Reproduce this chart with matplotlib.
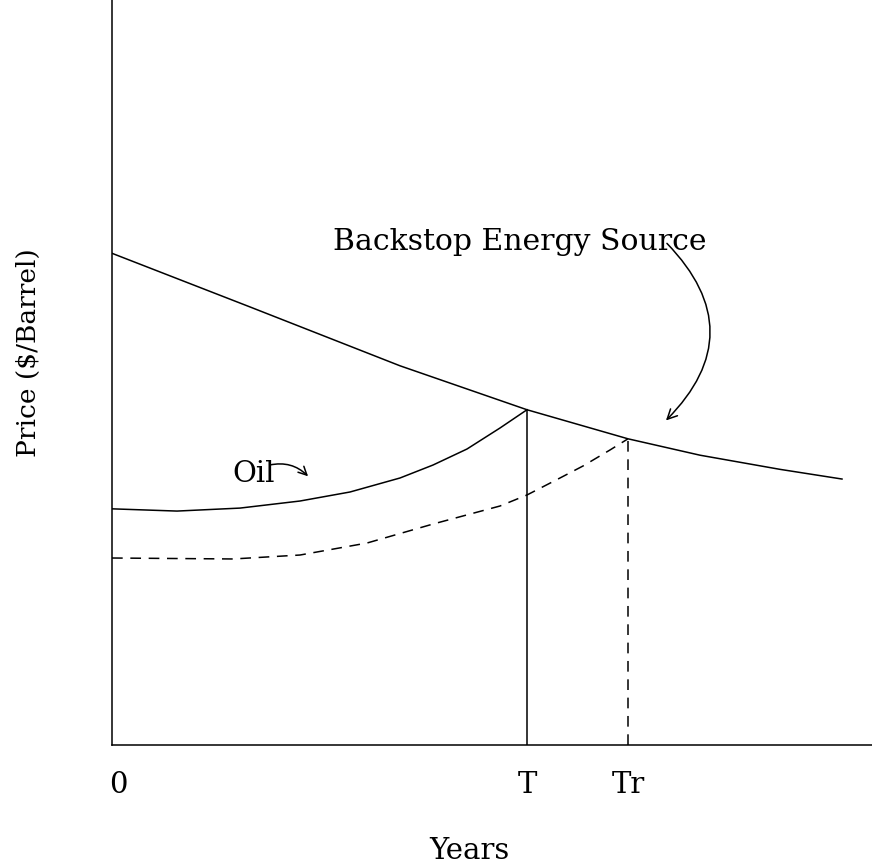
import matplotlib.pyplot as plt
import matplotlib.transforms as mtransforms
import numpy as np

plt.rcParams['font.family'] = ['DejaVu Serif']

# time points (years) where oil runs out
T = 20.75
Tr = 25.8

# backstop energy source price
backstop_x = [0, 6.9, 14.4, 20.75, 25.8, 29.4, 33.4, 36.5]
backstop_y = [66.0, 58.8, 50.9, 45.0, 41.1, 38.9, 37.0, 35.7]

# oil price path (solid)
oil_x = [0, 3.25, 6.4, 9.4, 11.9, 14.4, 16.05, 17.75, 19.4, 20.75]
oil_y = [31.7, 31.4, 31.8, 32.75, 33.96, 35.84, 37.58, 39.73, 42.55, 45.0]

# oil price path, second scenario (dashed)
oil2_x = [0, 6.05, 9.4, 12.75, 16.05, 19.4, 20.75, 22.4, 23.55, 24.9, 25.8]
oil2_y = [25.1, 24.97, 25.5, 27.11, 29.66, 32.08, 33.56, 35.84, 37.45, 39.6, 41.1]

tick_pos = [0, T, Tr]
tick_labels = ['0', 'T', 'Tr']

fig = plt.figure(figsize=(8.72, 8.64), dpi=100)
ax = fig.add_axes([112/872, 119/864, 760/872, 745/864])

ax.plot(backstop_x, backstop_y, color='black', lw=1.1)
ax.plot(oil_x, oil_y, color='black', lw=1.1)
ax.plot(oil2_x, oil2_y, color='black', lw=1.1, linestyle=(0, (7, 5)))

# verticals at T and Tr
ax.plot([T, T], [0, oil_y[-1]], color='black', lw=1.1)
ax.plot([Tr, Tr], [0, oil2_y[-1]], color='black', lw=1.1, linestyle=(0, (7, 5)))

ax.set_xlim(0, 38)
ax.set_ylim(0, 100)
ax.spines['top'].set_visible(False)
ax.spines['right'].set_visible(False)
ax.spines['left'].set_linewidth(1.1)
ax.spines['bottom'].set_linewidth(1.1)

ax.set_xticks(tick_pos)
ax.set_xticklabels(tick_labels, fontsize=21)
ax.set_yticks([])
ax.tick_params(axis='x', length=0, pad=19)
# "0" sits a little right of the axis
lbl0 = ax.get_xticklabels()[0]
lbl0.set_transform(lbl0.get_transform() + mtransforms.ScaledTranslation(6/100, 0, fig.dpi_scale_trans))

ax.set_xlabel('Years', fontsize=21)
ax.xaxis.set_label_coords(0.47, -0.142)
ax.xaxis.label.set_verticalalignment('center')
ax.set_ylabel('Price ($/Barrel)', fontsize=19)
ax.yaxis.set_label_coords(-0.1105, 0.527)
ax.yaxis.label.set_verticalalignment('center')

# labels with arrows
ax.text(11.05, 66.4, 'Backstop Energy Source', fontsize=21.5, ha='left', va='baseline')
ax.annotate('', xy=(27.6, 43.3), xytext=(27.65, 67.6),
            arrowprops=dict(arrowstyle='->,head_length=0.7,head_width=0.35', color='black',
                            lw=1.1, connectionstyle='arc3,rad=-0.5'))

ax.text(6.0, 35.3, 'Oil', fontsize=21, ha='left', va='baseline')
ax.annotate('', xy=(9.9, 35.8), xytext=(7.75, 37.5),
            arrowprops=dict(arrowstyle='->,head_length=0.6,head_width=0.3', color='black',
                            lw=1.1, connectionstyle='arc3,rad=-0.3'))

plt.savefig('out.png', dpi=100)
